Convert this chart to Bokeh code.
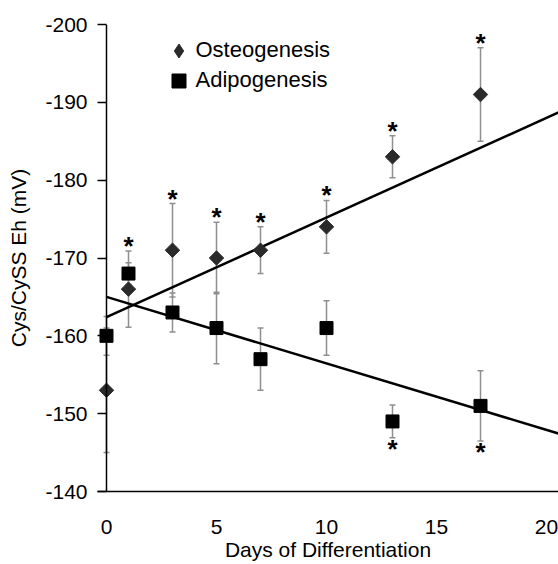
import math
from bokeh.plotting import figure
from bokeh.models import (Range1d, FixedTicker, Whisker, TeeHead, ColumnDataSource,
                          Span, Legend, LegendItem)
from bokeh.core.properties import value
from bokeh.embed import file_html
from bokeh.resources import INLINE

# ---- data ----
days = [0, 1, 3, 5, 7, 10, 13, 17]
eh_osteo = [-153, -166, -171, -170, -171, -174, -183, -191]
err_osteo = [8, 4.9, 6, 4.6, 3, 3.4, 2.7, 6]
eh_adipo = [-160, -168, -163, -161, -157, -161, -149, -151]
err_adipo = [2.5, 1.4, 2.5, 4.6, 4, 3.5, 2.1, 4.5]
sig_osteo_days = [1, 3, 5, 7, 10, 13, 17]   # asterisks above osteogenesis bars
sig_adipo_days = [13, 17]                   # asterisks below adipogenesis bars
fit_osteo = (-162.4, -1.28)   # intercept, slope of drawn trend line
fit_adipo = (-165.0, 0.854)
fit_days = [0, 21]
y_ticks = [-200, -190, -180, -170, -160, -150, -140]
x_ticks = [0, 5, 10, 15, 20]

FONT = "Liberation Sans"
ERR_COLOR = "#8f8f8f"
DIAMOND_COLOR = "#2a2a2a"

p = figure(width=558, height=564, x_range=Range1d(-0.409, 20.545),
           y_range=Range1d(-140, -200), output_backend="svg", toolbar_location=None,
           min_border_left=97, min_border_right=0, min_border_top=24, min_border_bottom=73)
p.outline_line_color = None
p.grid.visible = False
p.background_fill_color = "white"

# axes
p.xaxis.ticker = FixedTicker(ticks=x_ticks)
p.yaxis.ticker = FixedTicker(ticks=y_ticks)
p.yaxis.major_label_overrides = {t: str(t) for t in y_ticks}
p.xaxis.major_label_overrides = {t: str(t) for t in x_ticks}
for ax in (p.xaxis, p.yaxis):
    ax.major_label_text_font = FONT
    ax.major_label_text_font_size = "21px"
    ax.major_label_text_color = "black"
    ax.axis_label_text_font = FONT
    ax.axis_label_text_font_size = "21px"
    ax.axis_label_text_font_style = "normal"
    ax.axis_label_text_color = "black"
    ax.minor_tick_line_color = None
p.xaxis.axis_label = "Days of Differentiation"
p.yaxis.axis_label = "Cys/CySS Eh (mV)"
p.xaxis.axis_line_width = 1.5
p.xaxis.axis_line_color = "black"
p.xaxis.major_tick_in = 0
p.xaxis.major_tick_out = 0
p.xaxis.major_label_standoff = 28
p.xaxis.axis_label_standoff = 1
p.yaxis.axis_line_color = None
p.yaxis.major_tick_in = 9
p.yaxis.major_tick_out = 0
p.yaxis.major_tick_line_width = 1.5
p.yaxis.major_tick_line_color = "black"
p.yaxis.major_label_standoff = 10
p.yaxis.axis_label_standoff = 12

# y axis line at day 0
p.add_layout(Span(location=0, dimension="height", line_color="black", line_width=1.5))

# error bars
src_o = ColumnDataSource(dict(x=days, y=eh_osteo,
                              lo=[v - e for v, e in zip(eh_osteo, err_osteo)],
                              hi=[v + e for v, e in zip(eh_osteo, err_osteo)]))
src_a = ColumnDataSource(dict(x=days, y=eh_adipo,
                              lo=[v - e for v, e in zip(eh_adipo, err_adipo)],
                              hi=[v + e for v, e in zip(eh_adipo, err_adipo)]))
for src in (src_o, src_a):
    p.add_layout(Whisker(source=src, base="x", lower="lo", upper="hi", dimension="height",
                         line_color=ERR_COLOR, line_width=1.5,
                         upper_head=TeeHead(size=6, line_color=ERR_COLOR, line_width=1.5),
                         lower_head=TeeHead(size=6, line_color=ERR_COLOR, line_width=1.5)))

# trend lines
p.line(fit_days, [fit_osteo[0] + fit_osteo[1] * d for d in fit_days], line_color="black", line_width=2.5)
p.line(fit_days, [fit_adipo[0] + fit_adipo[1] * d for d in fit_days], line_color="black", line_width=2.5)

# markers: osteogenesis as a square turned 45 degrees (a diamond)
r_o = p.scatter("x", "y", source=src_o, marker="square", size=10.2, angle=math.pi / 4,
                fill_color=DIAMOND_COLOR, line_color=DIAMOND_COLOR, line_width=1)
r_a = p.scatter("x", "y", source=src_a, marker="square", size=13,
                fill_color="black", line_color="black", line_width=1)
# legend key for the diamonds (legend keys are drawn unrotated)
r_o_key = p.scatter("x", "y", source=src_o, marker="diamond", size=15,
                    fill_color=DIAMOND_COLOR, line_color=DIAMOND_COLOR, visible=False)

# significance asterisks
so_y = [eh_osteo[days.index(d)] - err_osteo[days.index(d)] for d in sig_osteo_days]
sa_y = [eh_adipo[days.index(d)] + err_adipo[days.index(d)] for d in sig_adipo_days]
p.text(sig_osteo_days, so_y, text=["*"] * len(so_y), text_align="center",
       text_baseline="alphabetic", y_offset=-5, text_font=value(FONT),
       text_font_size="26px", text_font_style="bold", text_color="black")
p.text(sig_adipo_days, sa_y, text=["*"] * len(sa_y), text_align="center",
       text_baseline="alphabetic", y_offset=11, text_font=value(FONT),
       text_font_size="26px", text_font_style="bold", text_color="black")

def make_legend(label, renderer, loc):
    return Legend(items=[LegendItem(label=label, renderers=[renderer])],
                  location=loc, glyph_width=35, glyph_height=35, spacing=0,
                  label_standoff=-7, padding=0, margin=0,
                  label_text_font=FONT, label_text_font_size="22px", label_text_color="black",
                  background_fill_alpha=0, border_line_alpha=0)

p.add_layout(make_legend("Osteogenesis", r_o_key, (63.5, 423.5)))
p.add_layout(make_legend("Adipogenesis", r_a, (63.5, 393.5)))

open("out.html", "w").write(file_html(p, INLINE))
